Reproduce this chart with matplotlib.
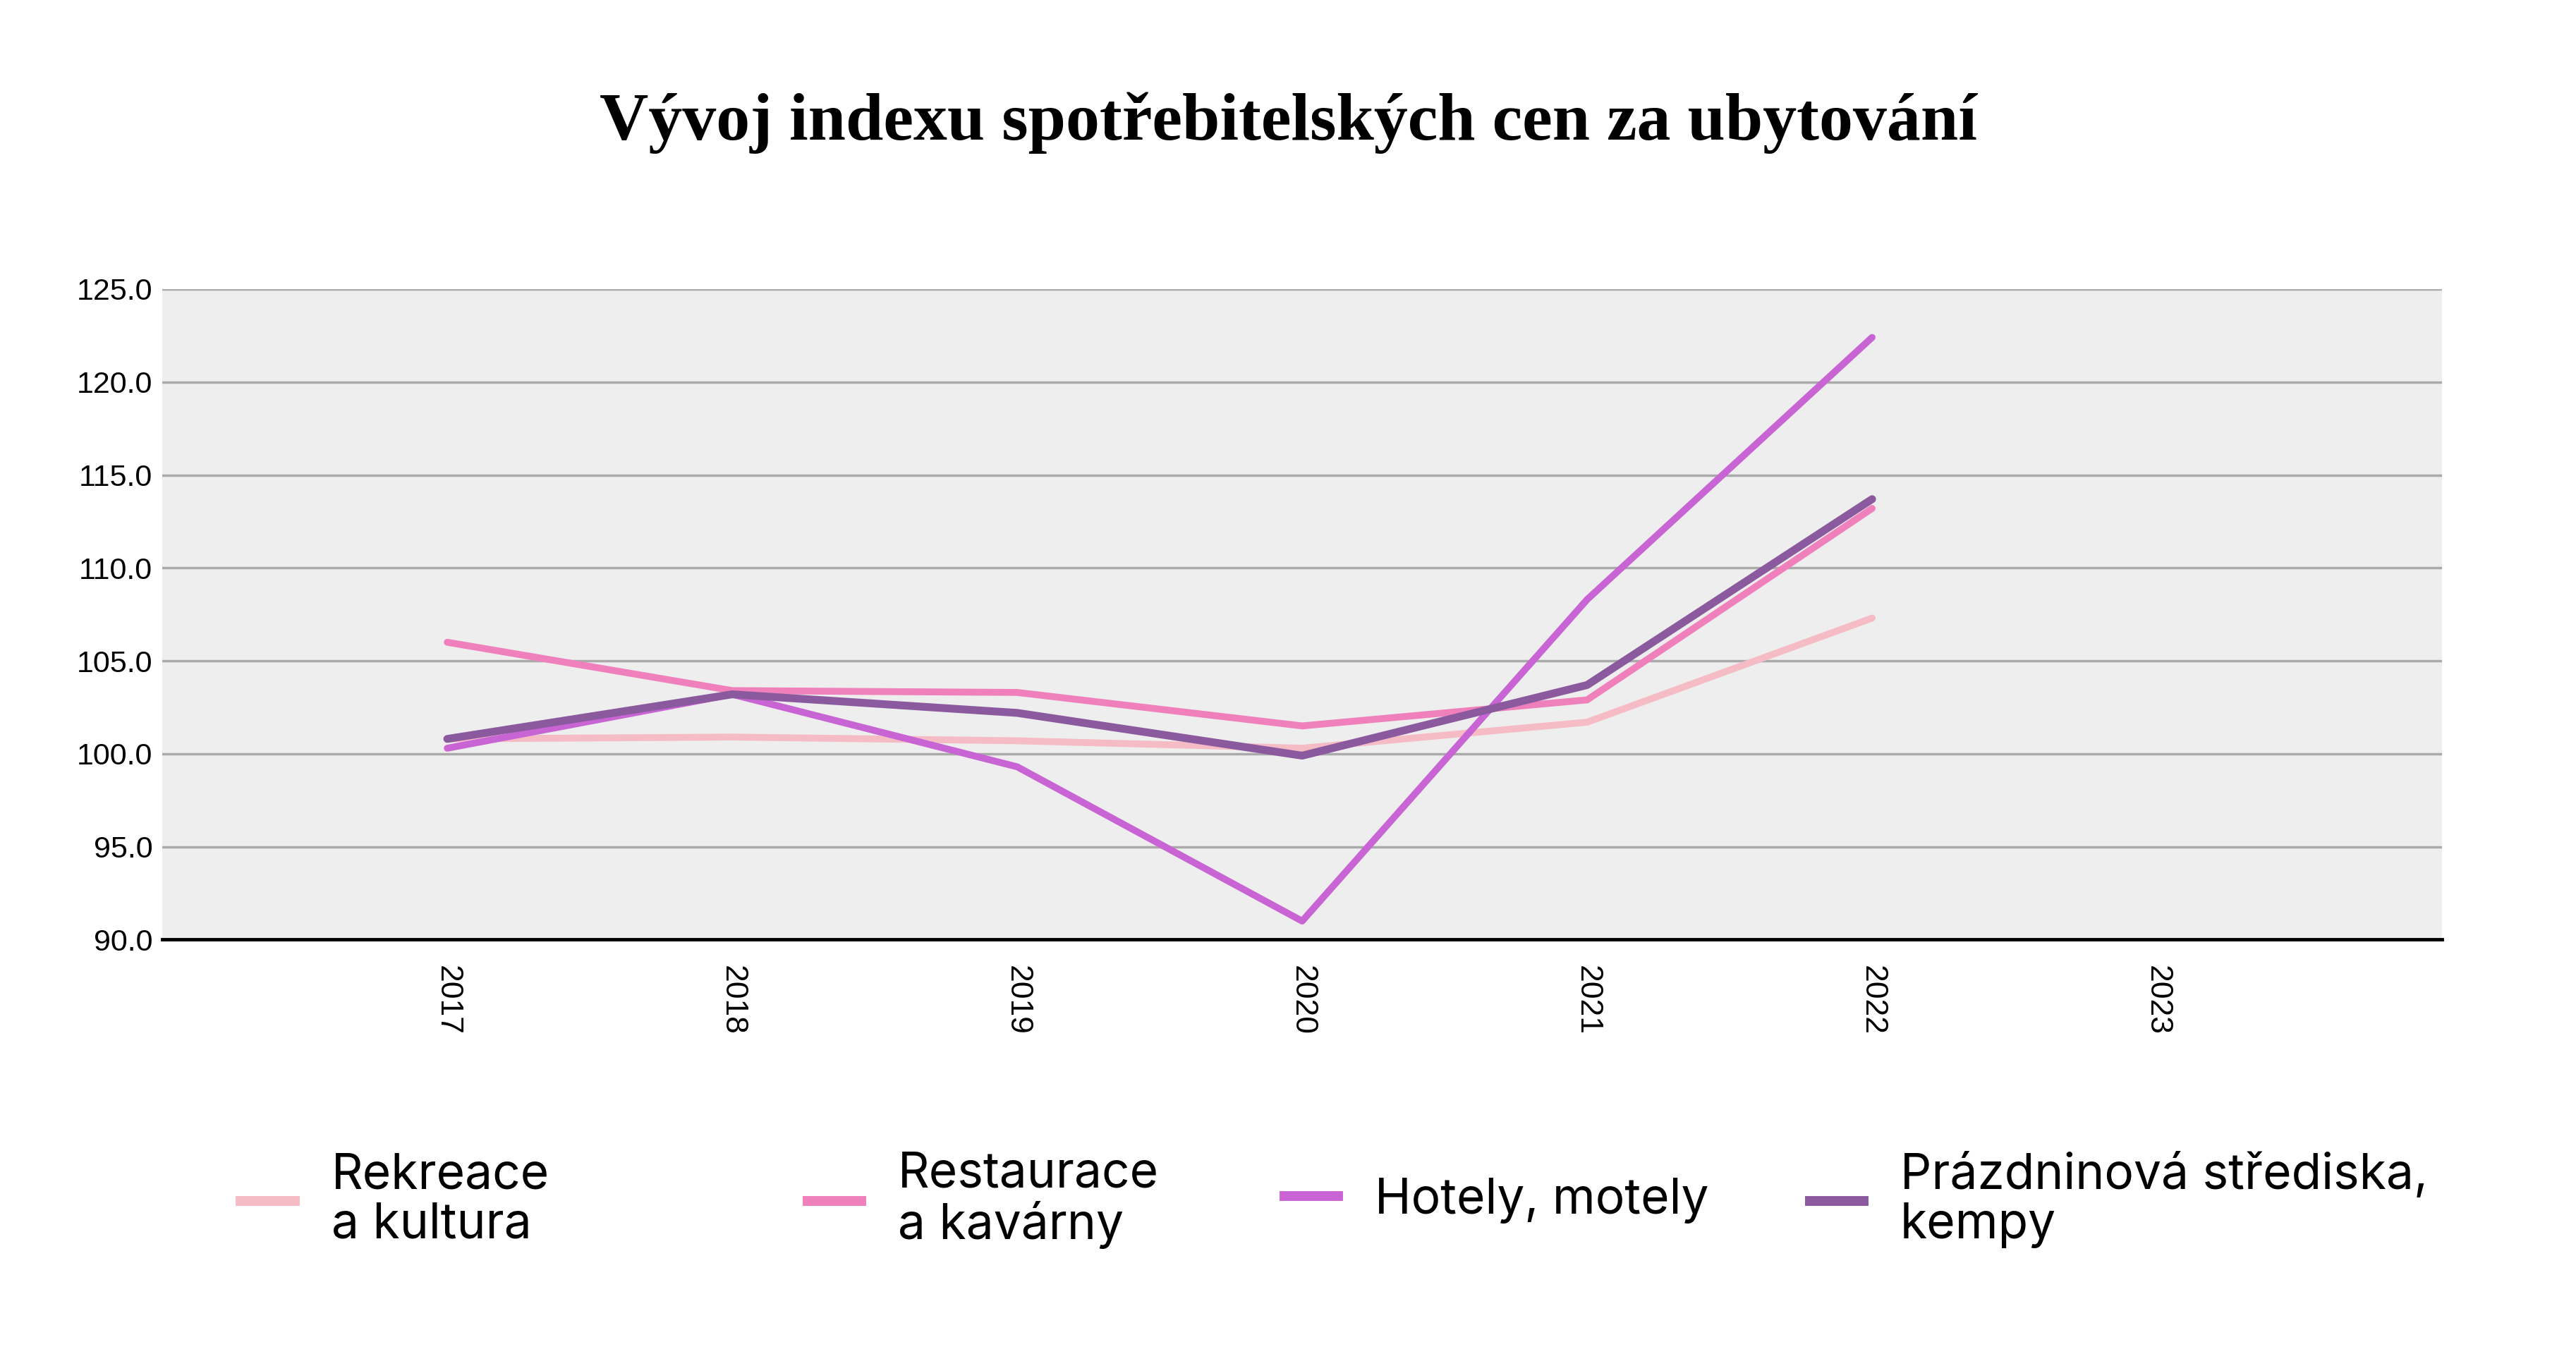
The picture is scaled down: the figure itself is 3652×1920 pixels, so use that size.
import numpy as np
import matplotlib
matplotlib.use("Agg")
import matplotlib.pyplot as plt
from matplotlib.lines import Line2D

# ---- data ----
years = [2017, 2018, 2019, 2020, 2021, 2022, 2023]
rekreace = [100.8, 100.9, 100.7, 100.3, 101.7, 107.3, np.nan]
restaurace = [106.0, 103.4, 103.3, 101.5, 102.9, 113.2, np.nan]
hotely = [100.3, 103.2, 99.3, 91.0, 108.3, 122.4, np.nan]
strediska = [100.8, 103.2, 102.2, 99.9, 103.7, 113.7, np.nan]

series_names = ["Rekreace\na kultura", "Restaurace\na kavárny", "Hotely, motely",
                "Prázdninová střediska,\nkempy"]
series_colors = ["#f5bcc5", "#ef80bb", "#c864d3", "#8b5a9e"]
yticks = [90, 95, 100, 105, 110, 115, 120, 125]
title = "Vývoj indexu spotřebitelských cen za ubytování"

fig = plt.figure(figsize=(36.52, 19.2), dpi=100)
fig.patch.set_facecolor("white")
ax = fig.add_axes([0.063, 0.306, 0.885, 0.4805])
ax.set_facecolor("#eeeeee")

data = [rekreace, restaurace, hotely, strediska]
widths = [7, 7, 7, 8]
for vals, col, lw in zip(data, series_colors, widths):
    ax.plot(years, vals, color=col, lw=lw, solid_capstyle="round", solid_joinstyle="round")

ax.set_xlim(2016, 2024)
ax.set_ylim(90, 125)
ax.set_yticks(yticks)
ax.set_yticklabels([f"{v:.1f}" for v in yticks], fontsize=31, family="Liberation Sans")
ax.set_xticks(years)
ax.set_xticklabels([str(y) for y in years], rotation=-90, fontsize=32,
                   family="Liberation Sans", va="top", ha="center")
ax.tick_params(axis="y", length=0, pad=10)
ax.tick_params(axis="x", length=0, pad=26)
ax.grid(axis="y", color="#aaaaaa", lw=2.5)
ax.set_axisbelow(True)
for s in ["left", "right", "top"]:
    ax.spines[s].set_visible(False)
ax.spines["bottom"].set_color("black")
ax.spines["bottom"].set_linewidth(3.5)
ax.spines["bottom"].set_zorder(5)

fig.text(0.5, 0.909, title, ha="center", va="center", fontsize=69,
         fontweight="bold", family="Liberation Serif")

xs = [0.0935, 0.3135, 0.4985, 0.7025]
for name, col, x in zip(series_names, series_colors, xs):
    h = Line2D([0], [0], color=col, lw=10)
    leg = fig.legend([h], [name], loc="center left", bbox_to_anchor=(x, 0.1135),
                     frameon=False, handlelength=1.1, handletextpad=0.75,
                     borderpad=0, borderaxespad=0, prop={"family": "Inter", "size": 50})
    for t in leg.get_texts():
        t.set_linespacing(1.1)

fig.savefig("out.png", dpi=100, facecolor="white")
